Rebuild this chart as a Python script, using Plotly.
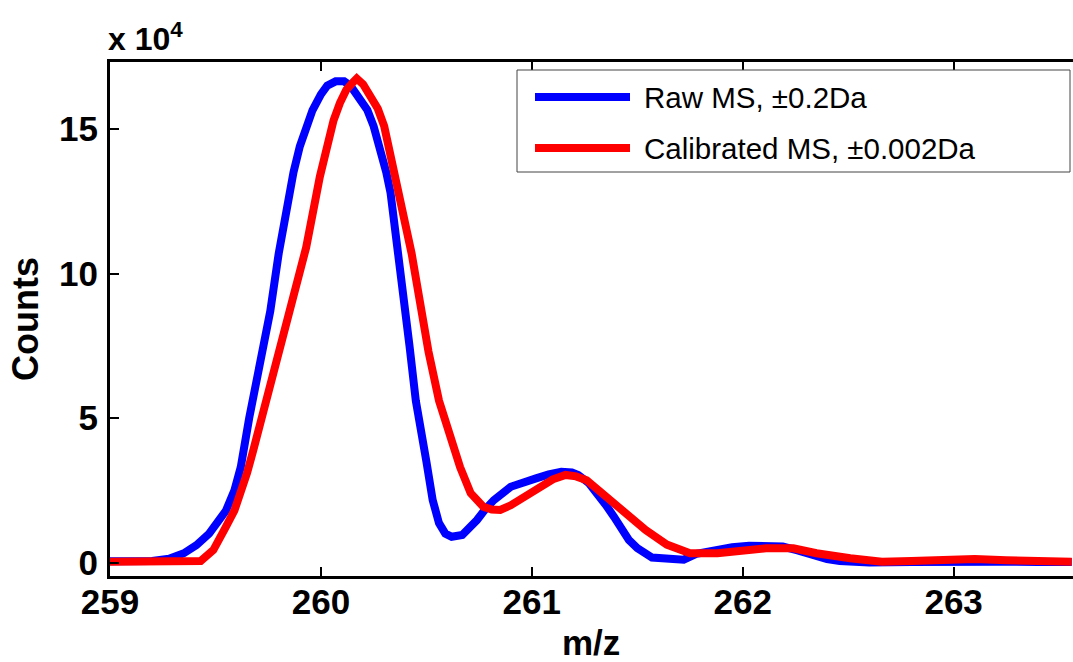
import plotly.graph_objects as go

# ---------------- data ----------------
raw_name = "Raw MS, ±0.2Da"
cal_name = "Calibrated MS, ±0.002Da"

raw_mz = [259.00, 259.10, 259.20, 259.28, 259.35, 259.41, 259.47, 259.51, 259.55, 259.59,
          259.62, 259.66, 259.71, 259.76, 259.80, 259.84, 259.87, 259.90, 259.93, 259.96,
          260.00, 260.03, 260.07, 260.11, 260.14, 260.18, 260.22, 260.25, 260.28, 260.31,
          260.33, 260.36, 260.39, 260.42, 260.45, 260.48, 260.50, 260.53, 260.56, 260.59,
          260.62, 260.67, 260.70, 260.74, 260.78, 260.82, 260.90, 260.96, 261.02, 261.08,
          261.14, 261.19, 261.22, 261.27, 261.31, 261.35, 261.39, 261.42, 261.46, 261.50,
          261.54, 261.57, 261.67, 261.72, 261.78, 261.85, 261.95, 262.03, 262.12, 262.19,
          262.26, 262.33, 262.40, 262.46, 262.60, 262.80, 263.00, 263.20, 263.40, 263.56]
raw_counts = [400, 400, 500, 1300, 3200, 6000, 10000, 14000, 18000, 25000,
              33000, 50000, 68000, 87000, 107000, 124000, 135000, 144000, 151000, 156500,
              162000, 165000, 166500, 166500, 165000, 161000, 156600, 151000, 144000, 135000,
              128000, 112000, 95000, 75000, 56000, 44700, 35000, 21600, 13600, 10000,
              8900, 9500, 11500, 14700, 18500, 21600, 26200, 28000, 29100, 30500,
              31400, 31200, 30300, 27500, 24000, 20000, 15800, 12000, 7800, 5000,
              3200, 1700, 1200, 1000, 3000, 4200, 5300, 5800, 5800, 5500,
              4200, 2600, 1200, 500, 0, 200, 500, 300, 200, 200]

cal_mz = [259.00, 259.20, 259.43, 259.49, 259.52, 259.55, 259.59, 259.62, 259.65, 259.68,
          259.74, 259.81, 259.87, 259.93, 259.995, 260.03, 260.06, 260.09, 260.12, 260.15,
          260.17, 260.20, 260.23, 260.27, 260.30, 260.34, 260.39, 260.43, 260.47, 260.51,
          260.56, 260.61, 260.66, 260.71, 260.77, 260.81, 260.85, 260.90, 260.94, 261.04,
          261.10, 261.16, 261.21, 261.26, 261.35, 261.45, 261.54, 261.64, 261.70, 261.75,
          261.88, 262.00, 262.11, 262.24, 262.35, 262.51, 262.66, 262.80, 262.95, 263.10,
          263.25, 263.40, 263.56]
cal_counts = [300, 300, 500, 4300, 8000, 12400, 18000, 24000, 31000, 39000,
              56000, 73500, 93000, 109000, 133500, 144000, 153000, 159000, 163500, 166000,
              167500, 165500, 162000, 157000, 151000, 137000, 122000, 107000, 90000, 73000,
              56000, 44700, 33000, 24000, 19300, 18300, 18200, 19800, 21600, 26200,
              28800, 30300, 29800, 28500, 22800, 17000, 11200, 6200, 4500, 3200,
              3200, 4300, 4900, 4900, 3200, 1500, 300, 500, 900, 1200,
              800, 500, 300]

x_ticks = [259, 260, 261, 262, 263]
y_ticks = [0, 50000, 100000, 150000]
y_tick_text = ["0", "5", "10", "15"]

# ---------------- layout geometry (pixels) ----------------
W, H = 1073, 662
L, R, T, B = 110, 1073, 62, 576


def px(xp):
    return (xp - L) / (R - L)


def py(yp):
    return (B - yp) / (B - T)


FONT = "Liberation Sans, Arial, sans-serif"

fig = go.Figure()
fig.add_trace(go.Scatter(x=raw_mz, y=raw_counts, mode="lines", name=raw_name,
                         line=dict(color="#0000FF", width=8), showlegend=False))
fig.add_trace(go.Scatter(x=cal_mz, y=cal_counts, mode="lines", name=cal_name,
                         line=dict(color="#FF0000", width=8), showlegend=False))

fig.update_layout(
    width=W, height=H,
    margin=dict(l=L, r=W - R, t=T, b=H - B),
    paper_bgcolor="white", plot_bgcolor="white",
    font=dict(family=FONT, color="black"),
)

fig.update_xaxes(
    range=[259, 263.566], tickvals=x_ticks, ticktext=[str(v) for v in x_ticks],
    showgrid=False, zeroline=False,
    showline=True, linecolor="black", linewidth=3, mirror="ticks",
    ticks="inside", ticklen=9, tickwidth=2, tickcolor="black",
    tickfont=dict(size=35, family=FONT, weight="bold"),
    ticklabelstandoff=-7,
)
fig.update_yaxes(
    range=[-4670, 173200], tickvals=y_ticks, ticktext=y_tick_text,
    showgrid=False, zeroline=False,
    showline=True, linecolor="black", linewidth=3, mirror=False,
    ticks="inside", ticklen=9, tickwidth=2, tickcolor="black",
    tickfont=dict(size=35, family=FONT, weight="bold"),
    ticklabelstandoff=2,
)

# axis titles and exponent
fig.add_annotation(text="Counts", xref="paper", yref="paper", x=px(25), y=py(319),
                   xanchor="center", yanchor="middle",
                   textangle=-90, showarrow=False,
                   font=dict(size=36, family=FONT, weight="bold"))
fig.add_annotation(text="m/z", xref="paper", yref="paper", x=px(591), y=py(642),
                   xanchor="center", yanchor="middle",
                   showarrow=False, font=dict(size=35, family=FONT, weight="bold"))
fig.add_annotation(text="x 10<sup>4</sup>", xref="paper", yref="paper", x=px(106), y=py(37),
                   xanchor="left", yanchor="middle", showarrow=False,
                   font=dict(size=32, family=FONT, weight="bold"))

# legend box (drawn to match the original's long legend lines)
fig.add_shape(type="rect", xref="paper", yref="paper",
              x0=px(517), x1=px(1070), y0=py(70), y1=py(172),
              line=dict(color="#444444", width=1), fillcolor="white", layer="above")
for name, color, yy in [(raw_name, "#0000FF", 97), (cal_name, "#FF0000", 148)]:
    fig.add_shape(type="line", xref="paper", yref="paper",
                  x0=px(535), x1=px(630), y0=py(yy), y1=py(yy),
                  line=dict(color=color, width=8), layer="above")
    fig.add_annotation(text=name, xref="paper", yref="paper", x=px(642), y=py(yy),
                       xanchor="left", yanchor="middle", showarrow=False,
                       font=dict(size=29.5, family=FONT))

fig.write_html("out.html", config={"displayModeBar": False},
               post_script="document.body.style.margin='0px';document.body.style.padding='0px';")
